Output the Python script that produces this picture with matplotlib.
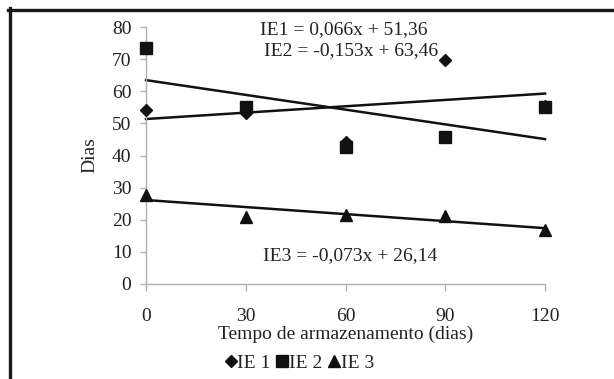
import numpy as np
import matplotlib.pyplot as plt
from matplotlib.lines import Line2D

plt.rcParams['font.family'] = ['Liberation Serif', 'DejaVu Serif']
plt.rcParams['font.size'] = 14

# Data
dias = [0, 30, 60, 90, 120]
ie1 = [54.3, 53.2, 44.2, 69.8, 55.3]
ie2 = [73.4, 55.0, 42.8, 45.8, 55.2]
ie3 = [27.6, 21.0, 21.6, 21.2, 16.9]

# trend line coefficients (slope, intercept) as printed on the chart
coef1 = (0.066, 51.36)
coef2 = (-0.153, 63.46)
coef3 = (-0.073, 26.14)

xticks = [0, 30, 60, 90, 120]
yticks = [0, 10, 20, 30, 40, 50, 60, 70, 80]

GREY = '#b0b0b0'
TXT = '#222222'
INK = '#111111'

fig = plt.figure(figsize=(6.14, 3.79), dpi=100)
ax = fig.add_axes([146 / 614, 1 - 284 / 379, 399 / 614, 257 / 379])

xl = np.array([0, 120])
for s, b in (coef1, coef2, coef3):
    ax.plot(xl, s * xl + b, color=INK, lw=1.8, zorder=2, clip_on=False)

ax.plot(dias, ie1, 'D', color=INK, ms=6.5, zorder=3, clip_on=False)
ax.plot(dias, ie2, 's', color=INK, ms=8.5, zorder=3, clip_on=False)
ax.plot(dias, ie3, '^', color=INK, ms=9, zorder=3, clip_on=False)

ax.set_xlim(0, 120)
ax.set_ylim(0, 80)
ax.set_xticks(xticks)
ax.set_yticks(yticks)
for side in ('top', 'right'):
    ax.spines[side].set_visible(False)
for side in ('left', 'bottom'):
    ax.spines[side].set_color(GREY)
    ax.spines[side].set_linewidth(1.0)
ax.tick_params(axis='both', colors=GREY, labelcolor=TXT, labelsize=14, width=1.0)
ax.tick_params(axis='y', length=4.5, pad=6)
ax.tick_params(axis='x', length=5, pad=12)

ax.set_xlabel('Tempo de armazenamento (dias)', fontsize=14, color=TXT, labelpad=1)
ax.set_ylabel('Dias', fontsize=14, color=TXT, labelpad=10)

ax.text(59.5, 79.1, 'IE1 = 0,066x + 51,36', ha='center', va='center',
        fontsize=14, color=TXT)
ax.text(61.7, 72.6, 'IE2 = -0,153x + 63,46', ha='center', va='center',
        fontsize=14, color=TXT)
ax.text(61.4, 8.7, 'IE3 = -0,073x + 26,14', ha='center', va='center',
        fontsize=14, color=TXT)

handles = [Line2D([], [], marker='D', ls='', color=INK, ms=6.5),
           Line2D([], [], marker='s', ls='', color=INK, ms=8.5),
           Line2D([], [], marker='^', ls='', color=INK, ms=9)]
fig.legend(handles, ['IE 1', 'IE 2', 'IE 3'], loc='center',
           bbox_to_anchor=(300 / 614, 1 - 363 / 379), ncol=3, frameon=False,
           handlelength=0.5, handletextpad=0.1, columnspacing=0.35,
           fontsize=14, labelcolor=TXT, borderpad=0)

# outer frame (left and top edges visible)
fig.add_artist(Line2D([9.5 / 614, 9.5 / 614], [0, 1 - 8 / 379], color='#1a1a1a',
                      lw=2.4, transform=fig.transFigure))
fig.add_artist(Line2D([8 / 614, 1], [1 - 9.5 / 379, 1 - 9.5 / 379], color='#1a1a1a',
                      lw=2.4, transform=fig.transFigure))

fig.savefig('out.png', dpi=100)
